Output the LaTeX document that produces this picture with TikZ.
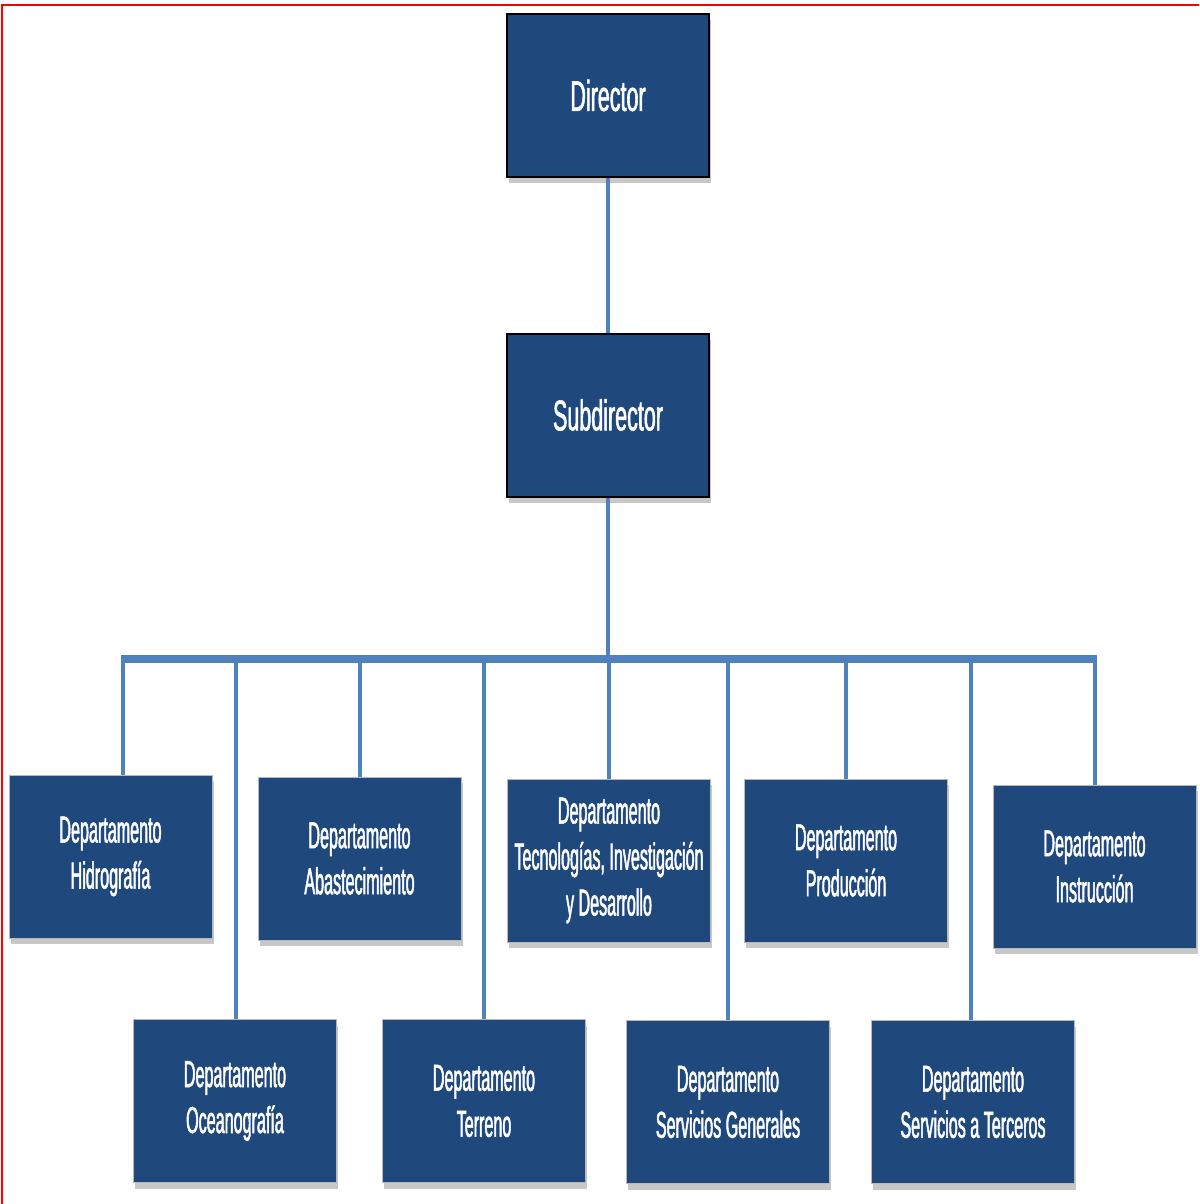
\documentclass[tikz,border=0pt]{standalone}
\usepackage{fontspec}
\usetikzlibrary{shadows}
\newfontfamily\topfont[FakeStretch=0.5,FakeBold=1.3]{Liberation Sans}
\newfontfamily\depfont[FakeStretch=0.43,FakeBold=1.3]{Liberation Sans}
\definecolor{boxblue}{HTML}{1F497D}
\definecolor{linkblue}{HTML}{4F81BD}
\tikzset{
  box/.style={rectangle, fill=boxblue, text=white, align=center, inner sep=0pt,
    minimum width=203pt, minimum height=163pt,
    drop shadow={shadow xshift=1.5pt, shadow yshift=-6pt, fill=black, opacity=0.22}},
  topbox/.style={box, draw=black, line width=2pt, minimum width=202pt, minimum height=163pt,
    font=\topfont\fontsize{43}{50}\selectfont},
  depbox/.style={box, draw=gray!55, line width=0.8pt,
    font=\depfont\fontsize{37.5}{46}\selectfont},
  conn/.style={draw=linkblue, line width=4pt},
  busline/.style={draw=linkblue, line width=8pt},
  frame/.style={draw=red, line width=2pt}
}
\begin{document}
\begin{tikzpicture}[x=1pt, y=-1pt]
\useasboundingbox (0,0) rectangle (1199,1204);
\draw[frame] (2,1204) -- (2,5) -- (1199,5);

\coordinate (busL) at (121,659);
\coordinate (busR) at (1097,659);

\node[topbox] (dir) at (608,95.5) {Director};
\node[topbox] (sub) at (608,415) {Subdirector};

\node[depbox] (hid) at (110.5,856.5) {Departamento\\Hidrografía};
\node[depbox] (aba) at (359.5,858.5) {Departamento\\Abastecimiento};
\node[depbox] (tec) at (609,860.5) {Departamento\\Tecnologías, Investigación\\y Desarrollo};
\node[depbox] (pro) at (846,860.5) {Departamento\\Producción};
\node[depbox] (ins) at (1094.5,866.5) {Departamento\\Instrucción};

\node[depbox] (oce) at (235,1101) {Departamento\\Oceanografía};
\node[depbox] (ter) at (484,1101) {Departamento\\Terreno};
\node[depbox] (sge) at (728,1102) {Departamento\\Servicios Generales};
\node[depbox] (ste) at (973,1102) {Departamento\\Servicios a Terceros};

\draw[conn] (dir.south) -- (sub.north);
\draw[conn] (sub.south) -- (sub.south |- busL);
\draw[busline] (busL) -- (busR);
\draw[conn] ([xshift=12.5pt]hid.north) -- ([xshift=12.5pt]hid.north |- busL);
\draw[conn] (aba.north) -- (aba.north |- busL);
\draw[conn] (tec.north) -- (tec.north |- busL);
\draw[conn] (pro.north) -- (pro.north |- busL);
\draw[conn] (ins.north) -- (ins.north |- busL);
\draw[conn] ([xshift=1pt]oce.north) -- ([xshift=1pt]oce.north |- busL);
\draw[conn] (ter.north) -- (ter.north |- busL);
\draw[conn] (sge.north) -- (sge.north |- busL);
\draw[conn] ([xshift=-2pt]ste.north) -- ([xshift=-2pt]ste.north |- busL);
\end{tikzpicture}
\end{document}
